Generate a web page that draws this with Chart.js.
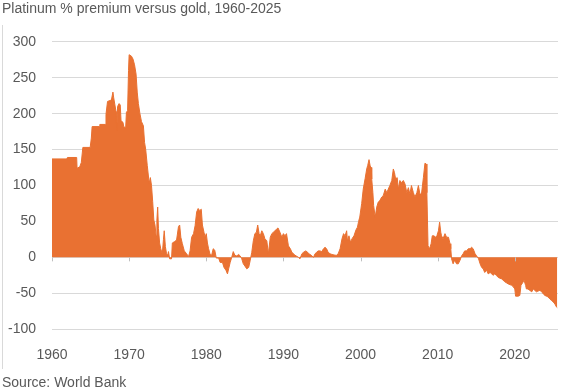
<!DOCTYPE html>
<html>
<head>
<meta charset="utf-8">
<script src="https://cdn.jsdelivr.net/npm/chart.js@4.4.1/dist/chart.umd.min.js"></script>
<style>
  html, body { margin: 0; padding: 0; background: #ffffff; }
  #wrap { position: relative; width: 577px; height: 392px; }
  #frame { position: absolute; left: 2px; top: 25px; width: 0; height: 344px; border-left: 1px solid #d9d9d9; }
  canvas { position: absolute; left: 0; top: 0; }
</style>
</head>
<body>
<div id="wrap">
  <canvas id="c" width="577" height="392"></canvas>
  <div id="frame"></div>
</div>
<script>
const titleText = "Platinum % premium versus gold, 1960-2025";
const sourceText = "Source: World Bank";
const xTickYears = [1960, 1970, 1980, 1990, 2000, 2010, 2020];
const yTickValues = [-100, -50, 0, 50, 100, 150, 200, 250, 300];

const years = [
  1960.0, 1961.9, 1962.0, 1963.2, 1963.25, 1963.6, 1963.8, 1964.0, 1964.95, 1965.1,
  1965.2, 1966.15, 1966.2, 1966.9, 1967.0, 1967.2, 1967.7, 1967.9, 1968.0, 1968.3,
  1968.4, 1968.5, 1968.7, 1968.85, 1968.95, 1969.2, 1969.3, 1969.55, 1969.65, 1969.8,
  1969.92, 1970.0, 1970.3, 1970.5, 1970.7, 1970.9, 1971.05, 1971.2, 1971.4, 1971.6,
  1971.85, 1972.0, 1972.15, 1972.35, 1972.6, 1972.75, 1972.9, 1973.05, 1973.2, 1973.35,
  1973.5, 1973.6, 1973.7, 1973.8, 1973.95, 1974.1, 1974.3, 1974.45, 1974.55, 1974.7,
  1974.85, 1975.0, 1975.1, 1975.25, 1975.5, 1975.6, 1975.9, 1976.15, 1976.4, 1976.55,
  1976.7, 1976.9, 1977.15, 1977.45, 1977.7, 1977.9, 1978.1, 1978.35, 1978.55, 1978.75,
  1978.95, 1979.15, 1979.35, 1979.5, 1979.7, 1979.85, 1980.0, 1980.15, 1980.3, 1980.5,
  1980.7, 1980.9, 1981.1, 1981.3, 1981.6, 1981.8, 1982.1, 1982.3, 1982.55, 1982.75,
  1982.9, 1983.1, 1983.3, 1983.5, 1983.7, 1983.95, 1984.2, 1984.4, 1984.6, 1984.8,
  1985.0, 1985.25, 1985.5, 1985.7, 1985.9, 1986.1, 1986.3, 1986.5, 1986.67, 1986.85,
  1987.0, 1987.2, 1987.4, 1987.6, 1987.85, 1988.05, 1988.3, 1988.5, 1988.7, 1988.9,
  1989.1, 1989.3, 1989.55, 1989.8, 1990.0, 1990.2, 1990.4, 1990.65, 1990.9, 1991.1,
  1991.5, 1991.95, 1992.15, 1992.4, 1992.6, 1992.9, 1993.15, 1993.3, 1993.6, 1993.9,
  1994.1, 1994.3, 1994.5, 1994.75, 1994.97, 1995.2, 1995.4, 1995.6, 1995.8, 1996.05,
  1996.3, 1996.7, 1996.9, 1997.1, 1997.35, 1997.6, 1997.8, 1998.0, 1998.2, 1998.3,
  1998.5, 1998.7, 1998.9, 1999.15, 1999.4, 1999.6, 1999.75, 1999.9, 2000.15, 2000.35,
  2000.6, 2000.8, 2000.93, 2001.1, 2001.25, 2001.4, 2001.45, 2001.6, 2001.7, 2001.9,
  2002.1, 2002.3, 2002.5, 2002.75, 2002.95, 2003.2, 2003.4, 2003.6, 2003.8, 2004.05,
  2004.25, 2004.4, 2004.55, 2004.75, 2004.9, 2005.1, 2005.3, 2005.55, 2005.77, 2006.0,
  2006.2, 2006.4, 2006.6, 2006.85, 2007.05, 2007.3, 2007.5, 2007.7, 2007.9, 2008.15,
  2008.35, 2008.5, 2008.6, 2008.75, 2008.95, 2009.15, 2009.3, 2009.5, 2009.75, 2009.9,
  2010.1, 2010.25, 2010.4, 2010.5, 2010.7, 2010.95, 2011.15, 2011.4, 2011.6, 2011.7,
  2011.8, 2012.0, 2012.2, 2012.45, 2012.67, 2012.9, 2013.1, 2013.3, 2013.5, 2013.75,
  2013.97, 2014.2, 2014.4, 2014.6, 2014.85, 2015.05, 2015.3, 2015.5, 2015.7, 2015.9,
  2016.1, 2016.35, 2016.55, 2016.8, 2017.0, 2017.2, 2017.4, 2017.6, 2017.85, 2018.3,
  2018.7, 2019.15, 2019.6, 2019.8, 2020.0, 2020.1, 2020.45, 2020.65, 2020.8, 2021.1,
  2021.2, 2021.4, 2021.5, 2021.7, 2021.95, 2022.2, 2022.4, 2022.6, 2022.8, 2023.0,
  2023.25, 2023.5, 2023.7, 2023.9, 2024.1, 2024.3, 2024.55, 2024.75, 2024.98, 2025.2,
  2025.4, 2025.5
];

const premium = [
  137, 137, 139, 139, 124, 126, 132, 153, 153, 166,
  182, 182, 185, 185, 199, 217, 219, 230, 222, 203,
  176, 210, 214, 212, 190, 188, 182, 180, 202, 204,
  260, 282, 280, 276, 268, 255, 230, 214, 200, 189,
  183, 160, 150, 128, 103, 111, 100, 78, 52, 45,
  30, 52, 70, 40, 20, 12, 5, 25, 37, 15,
  5, 3, 8, -2, -2, 20, 22, 24, 43, 45,
  28, 19, 9, 5, 1, 9, 28, 33, 44, 63,
  68, 65, 67, 45, 35, 28, 33, 20, 12, 4,
  3, 12, 10, -1, -1, -7, -7, -14, -18, -23,
  -16, -7, 0, 8, 3, 2, 4, 2, -2, -9,
  -12, -16, -14, -4, 7, 23, 33, 35, 45, 33,
  30, 37, 33, 26, 23, 5, 28, 33, 35, 37,
  39, 41, 35, 28, 33, 30, 33, 16, 12, 7,
  3, 0, -2, 5, 7, 9, 7, 5, 3, 0,
  5, 7, 9, 9, 8, 12, 14, 12, 7, 5,
  4, 3, 3, 5, 12, 26, 33, 30, 37, 23,
  30, 21, 26, 30, 38, 42, 50, 56, 75, 95,
  110, 123, 128, 136, 127, 125, 109, 90, 72, 56,
  70, 77, 79, 84, 86, 95, 90, 95, 100, 107,
  123, 118, 109, 111, 95, 107, 104, 107, 102, 90,
  97, 88, 100, 90, 84, 90, 100, 88, 88, 111,
  131, 130, 90, 16, 12, 19, 30, 30, 28, 30,
  37, 49, 35, 30, 26, 33, 28, 28, 19, 12,
  -2, -9, -4, -9, -9, -4, 2, 5, 9, 9,
  12, 12, 14, 12, 5, 2, -2, -9, -14, -16,
  -21, -18, -23, -21, -23, -25, -23, -25, -28, -30,
  -34, -37, -39, -41, -44, -54, -54, -53, -39, -34,
  -32, -39, -44, -44, -46, -48, -44, -46, -48, -47,
  -46, -48, -51, -53, -54, -55, -58, -60, -62, -65,
  -69, -70
];

const ORANGE = '#E97132';
const TEXT = '#595959';
const GRID = '#d9d9d9';

const zeroTicks = {
  id: 'zeroTicks',
  afterDatasetsDraw(chart) {
    const { ctx, scales: { x, y } } = chart;
    const y0 = y.getPixelForValue(0);
    ctx.save();
    ctx.strokeStyle = '#bfbfbf';
    ctx.lineWidth = 1;
    xTickYears.forEach(v => {
      const px = Math.round(x.getPixelForValue(v)) + 0.5;
      ctx.beginPath();
      ctx.moveTo(px, y0);
      ctx.lineTo(px, y0 + 4);
      ctx.stroke();
    });
    ctx.restore();
  }
};

new Chart(document.getElementById('c'), {
  type: 'line',
  data: {
    datasets: [{
      data: years.map((yr, i) => ({ x: yr, y: premium[i] })),
      borderColor: ORANGE,
      backgroundColor: ORANGE,
      borderWidth: 1,
      pointRadius: 0,
      tension: 0,
      fill: 'origin'
    }]
  },
  options: {
    responsive: false,
    devicePixelRatio: 1,
    animation: false,
    layout: { padding: { left: 2, right: 19, top: 0, bottom: 0 } },
    plugins: {
      legend: { display: false },
      tooltip: { enabled: false },
      title: {
        display: true,
        text: titleText,
        align: 'start',
        color: TEXT,
        font: { family: "'Liberation Sans', Arial, sans-serif", size: 14, weight: 'normal' },
        padding: { top: 1, bottom: 24 }
      },
      subtitle: {
        display: true,
        text: sourceText,
        position: 'bottom',
        align: 'start',
        color: TEXT,
        font: { family: "'Liberation Sans', Arial, sans-serif", size: 14, weight: 'normal' },
        padding: { top: 0, bottom: 0 }
      }
    },
    scales: {
      x: {
        type: 'linear',
        min: 1960,
        max: 2025.6,
        grid: { display: false },
        border: { display: false },
        afterBuildTicks(s) { s.ticks = xTickYears.map(v => ({ value: v })); },
        afterFit(s) { s.height = 46; },
        ticks: {
          color: TEXT,
          maxRotation: 0,
          autoSkip: false,
          padding: 10,
          font: { family: "'Liberation Sans', Arial, sans-serif", size: 14 },
          callback: v => String(v)
        }
      },
      y: {
        min: -100,
        max: 300,
        afterBuildTicks(s) { s.ticks = yTickValues.map(v => ({ value: v })); },
        afterFit(s) { s.width = 50; },
        grid: { color: GRID, drawTicks: false, lineWidth: 1 },
        border: { display: false },
        ticks: {
          color: TEXT,
          padding: 16,
          font: { family: "'Liberation Sans', Arial, sans-serif", size: 14 },
          callback: v => String(v)
        }
      }
    }
  },
  plugins: [zeroTicks]
});
</script>
</body>
</html>
